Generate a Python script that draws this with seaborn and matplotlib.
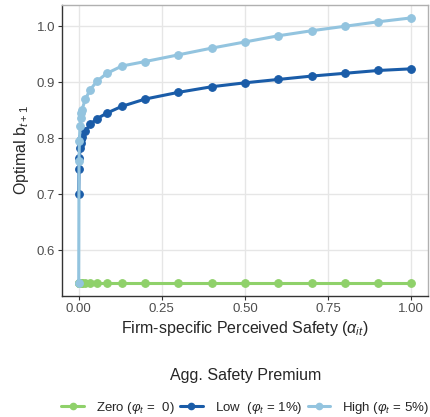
import numpy as np
import pandas as pd
import matplotlib
matplotlib.use("Agg")
import matplotlib.pyplot as plt
import seaborn as sns
from matplotlib.lines import Line2D

# ---- data ----
alpha = [0.0, 0.001, 0.002, 0.004, 0.006, 0.008, 0.01, 0.02, 0.035, 0.055,
         0.085, 0.13, 0.2, 0.3, 0.4, 0.5, 0.6, 0.7, 0.8, 0.9, 1.0]
zero_vals = [0.542] * len(alpha)
low_vals = [0.700, 0.745, 0.765, 0.782, 0.792, 0.798, 0.802, 0.813, 0.825, 0.835,
            0.845, 0.857, 0.870, 0.882, 0.892, 0.899, 0.905, 0.911, 0.916, 0.921, 0.924]
high_vals = [0.542, 0.760, 0.795, 0.822, 0.836, 0.845, 0.851, 0.870, 0.887, 0.902,
             0.916, 0.929, 0.937, 0.949, 0.961, 0.972, 0.983, 0.992, 1.000, 1.008, 1.015]
series_labels = [r"Zero ($\varphi_t$ =  0)", r"Low  ($\varphi_t$ = 1%)", r"High ($\varphi_t$ = 5%)"]
series_colors = ["#8fd16a", "#1a5ca8", "#93c4df"]
x_ticks = [0.0, 0.25, 0.5, 0.75, 1.0]
x_ticklabels = ["0.00", "0.25", "0.50", "0.75", "1.00"]
y_ticks = [0.6, 0.7, 0.8, 0.9, 1.0]
y_ticklabels = ["0.6", "0.7", "0.8", "0.9", "1.0"]

df = pd.concat([
    pd.DataFrame({"alpha": alpha, "b": vals, "Premium": lab})
    for vals, lab in zip([zero_vals, low_vals, high_vals], series_labels)
], ignore_index=True)

sns.set_theme(style="white")
plt.rcParams["font.family"] = ["Liberation Sans", "DejaVu Sans"]
plt.rcParams["mathtext.fontset"] = "custom"
plt.rcParams["mathtext.rm"] = "Liberation Sans"
plt.rcParams["mathtext.it"] = "Liberation Sans:italic"

fig = plt.figure(figsize=(4.31, 4.17), dpi=100)
ax = fig.add_axes([0.144, 0.290, 0.849, 0.698])

sns.lineplot(data=df, x="alpha", y="b", hue="Premium", hue_order=series_labels,
             palette=series_colors, marker="o", markersize=5.5, linewidth=2.2,
             ax=ax, legend=False, sort=False)
for ln in ax.lines:
    ln.set_markeredgecolor(ln.get_color())
    ln.set_markeredgewidth(0.8)

ax.set_xlim(-0.05, 1.05)
ax.set_ylim(0.518, 1.038)
ax.set_xticks(x_ticks)
ax.set_xticklabels(x_ticklabels)
ax.set_yticks(y_ticks)
ax.set_yticklabels(y_ticklabels)
ax.grid(True, color="#e6e6e6", linewidth=1.0)
ax.set_axisbelow(True)
for s in ["top", "right"]:
    ax.spines[s].set_color("#b0b0b0")
    ax.spines[s].set_linewidth(1.0)
for s in ["left", "bottom"]:
    ax.spines[s].set_color("#333333")
    ax.spines[s].set_linewidth(1.0)
ax.tick_params(axis="both", which="major", length=3, width=0.8, color="#333333",
               labelsize=9.5, labelcolor="#4d4d4d", pad=2, left=True, bottom=True)
ax.set_xlabel(r"Firm-specific Perceived Safety ($\alpha_{it}$)", fontsize=11.5, labelpad=3)
ax.set_ylabel(r"Optimal b$_{t+1}$", fontsize=11.5, labelpad=4)

handles = [Line2D([0], [0], color=c, linewidth=2.2, marker="o", markersize=4.5,
                  markeredgecolor=c) for c in series_colors]
leg = fig.legend(handles, series_labels, loc="center", bbox_to_anchor=(0.569, 0.06),
                 ncol=3, frameon=False, fontsize=9.5, title="Agg. Safety Premium",
                 title_fontsize=11.5, handlelength=1.7, columnspacing=0.45,
                 handletextpad=0.9)
leg._legend_box.sep = 12

fig.savefig("out.png", dpi=100)
